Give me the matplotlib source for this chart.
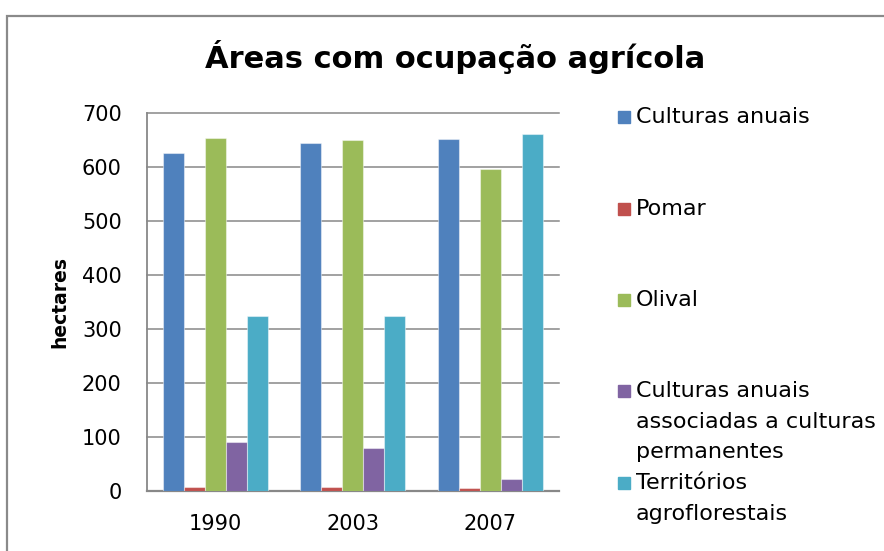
import matplotlib
matplotlib.use("Agg")
import matplotlib.pyplot as plt
import matplotlib.patches as patches
import numpy as np

# data
years = ["1990", "2003", "2007"]
series_names = [
    "Culturas anuais",
    "Pomar",
    "Olival",
    "Culturas anuais\nassociadas a culturas\npermanentes",
    "Territórios\nagroflorestais",
]
culturas_anuais = [625, 643, 651]
pomar = [6, 6, 5]
olival = [654, 649, 596]
culturas_associadas = [90, 80, 21]
territorios_agroflorestais = [324, 324, 661]

series_values = [culturas_anuais, pomar, olival, culturas_associadas, territorios_agroflorestais]
colors = ["#4F81BD", "#C0504D", "#9BBB59", "#8064A2", "#4BACC6"]

W, H = 884, 551
fig = plt.figure(figsize=(W / 100, H / 100), dpi=100)
plt.rcParams['font.family'] = ['DejaVu Sans']

# outer chart border (cut off at right and bottom)
fig.patches.append(patches.Rectangle((7 / W, -0.1), 1.2, (H - 16) / H + 0.1,
                                     transform=fig.transFigure, fill=False,
                                     edgecolor="#8a8a8a", lw=1.6))

ax = fig.add_axes([146.7 / W, 1 - 490.7 / H, (559 - 146.7) / W, (490.7 - 112.7) / H])

x = np.arange(len(years))
bw = 0.153
for i, (vals, c) in enumerate(zip(series_values, colors)):
    ax.bar(x + (i - 2) * bw, vals, width=bw, color=c, edgecolor=(1, 1, 1, 0.45),
           linewidth=0.8, zorder=3)

ax.set_xlim(-0.5, 2.5)
ax.set_ylim(0, 700)
ax.set_yticks(range(0, 701, 100))
ax.set_xticks(x)
ax.set_xticklabels(years)
ax.yaxis.grid(True, color="#888888", linewidth=1.1, zorder=0)
for gl in ax.get_ygridlines():
    gl.set_clip_on(False)
ax.set_axisbelow(True)
for s in ["top", "right"]:
    ax.spines[s].set_visible(False)
ax.spines["left"].set_color("#888888")
ax.spines["left"].set_linewidth(1.3)
ax.spines["bottom"].set_color("#888888")
ax.spines["bottom"].set_linewidth(1.6)
ax.tick_params(axis="y", length=0, pad=18, labelsize=15)
ax.tick_params(axis="x", length=0, pad=17, labelsize=15)

ax.set_ylabel("hectares", fontsize=13.5, fontweight="bold", labelpad=9)

fig.text(455 / W, 1 - 57 / H, "Áreas com ocupação agrícola", ha="center", va="center",
         fontsize=22, fontweight="bold")

# legend drawn by hand to follow the reference layout
legend_y = [117, 209, 300, 391, 483]
line_step = 30.5
for name, c, y0 in zip(series_names, colors, legend_y):
    fig.patches.append(patches.Rectangle((618 / W, 1 - (y0 + 6) / H), 12 / W, 12 / H,
                                         transform=fig.transFigure, color=c))
    for k, line in enumerate(name.split("\n")):
        fig.text(636 / W, 1 - (y0 + k * line_step) / H, line, ha="left", va="center",
                 fontsize=16)

fig.savefig("out.png", dpi=100)
